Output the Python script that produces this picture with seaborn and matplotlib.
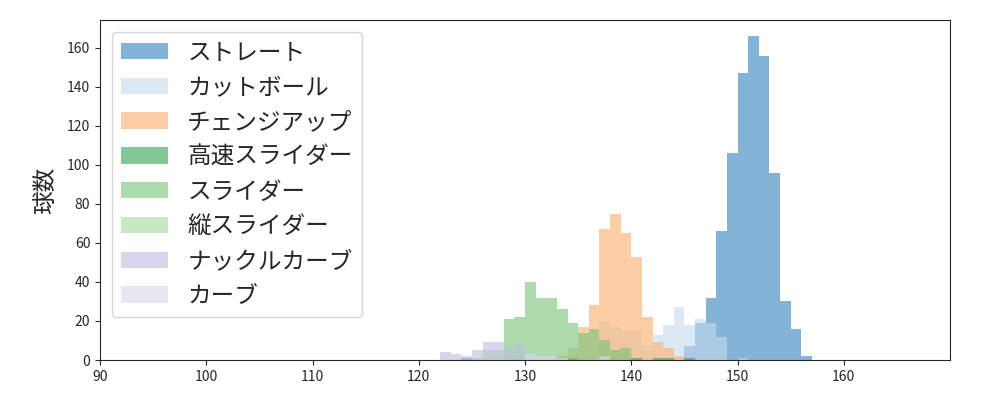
import matplotlib
matplotlib.use("Agg")
import matplotlib.pyplot as plt
import seaborn as sns
import numpy as np
import pandas as pd

sns.set_style("ticks")
plt.rcParams['font.family'] = ['Noto Sans CJK JP', 'DejaVu Sans']

# pitch types (legend order) and colours
pitch_names = ["ストレート", "カットボール", "チェンジアップ", "高速スライダー",
               "スライダー", "縦スライダー", "ナックルカーブ", "カーブ"]
pitch_colors = ["#3182bd", "#c6dbef", "#fdae6b", "#31a354",
                "#74c476", "#a1d99b", "#bcbddc", "#dadaeb"]

# first speed bin (km/h) of each type, 1 km/h wide bins
straight_start = 145
straight_counts = [7, 19, 32, 66, 106, 147, 166, 156, 96, 30, 16, 2]
cutball_start = 137
cutball_counts = [20, 17, 15, 15, 7, 13, 18, 27, 18, 21, 19, 12, 0, 1]
changeup_start = 133
changeup_counts = [2, 6, 17, 28, 67, 75, 65, 53, 22, 9, 6, 2, 1]
hs_slider_start = 124
hs_slider_counts = [1, 0, 0, 0, 0, 0, 0, 0, 0, 0, 1, 0, 0, 0, 0, 0, 1, 0, 1, 1, 0, 1]
slider_start = 128
slider_counts = [21, 22, 40, 32, 32, 26, 19, 14, 16, 10, 5, 6]
v_slider_start = 125
v_slider_counts = [1, 5, 5, 3, 2]
k_curve_start = 122
k_curve_counts = [4, 3, 2, 5, 9, 9, 6, 8, 3, 2, 2]
curve_start = 130
curve_counts = [3, 2, 2, 1, 0, 0, 0, 2]

starts = [straight_start, cutball_start, changeup_start, hs_slider_start,
          slider_start, v_slider_start, k_curve_start, curve_start]
counts = [straight_counts, cutball_counts, changeup_counts, hs_slider_counts,
          slider_counts, v_slider_counts, k_curve_counts, curve_counts]

fig, ax = plt.subplots(figsize=(10, 4), dpi=100)
fig.subplots_adjust(left=0.1, right=0.95, top=0.95, bottom=0.1)

for name, color, start, cnt in zip(pitch_names, pitch_colors, starts, counts):
    df = pd.DataFrame({"speed": np.arange(len(cnt)) + start + 0.5, "n": cnt})
    sns.histplot(data=df, x="speed", weights="n", binwidth=1,
                 binrange=(start, start + len(cnt)), color=color,
                 alpha=0.6, linewidth=0, label=name, ax=ax)

ax.set_xlim(90, 170)
ax.set_xticks(range(90, 170, 10))
ax.set_yticks(range(0, 170, 20))
ax.set_xlabel("")
ax.set_ylabel("球数", fontsize=17, labelpad=7)
ax.tick_params(labelsize=10)
ax.legend(loc="upper left", fontsize=17)

fig.savefig("out.png")
